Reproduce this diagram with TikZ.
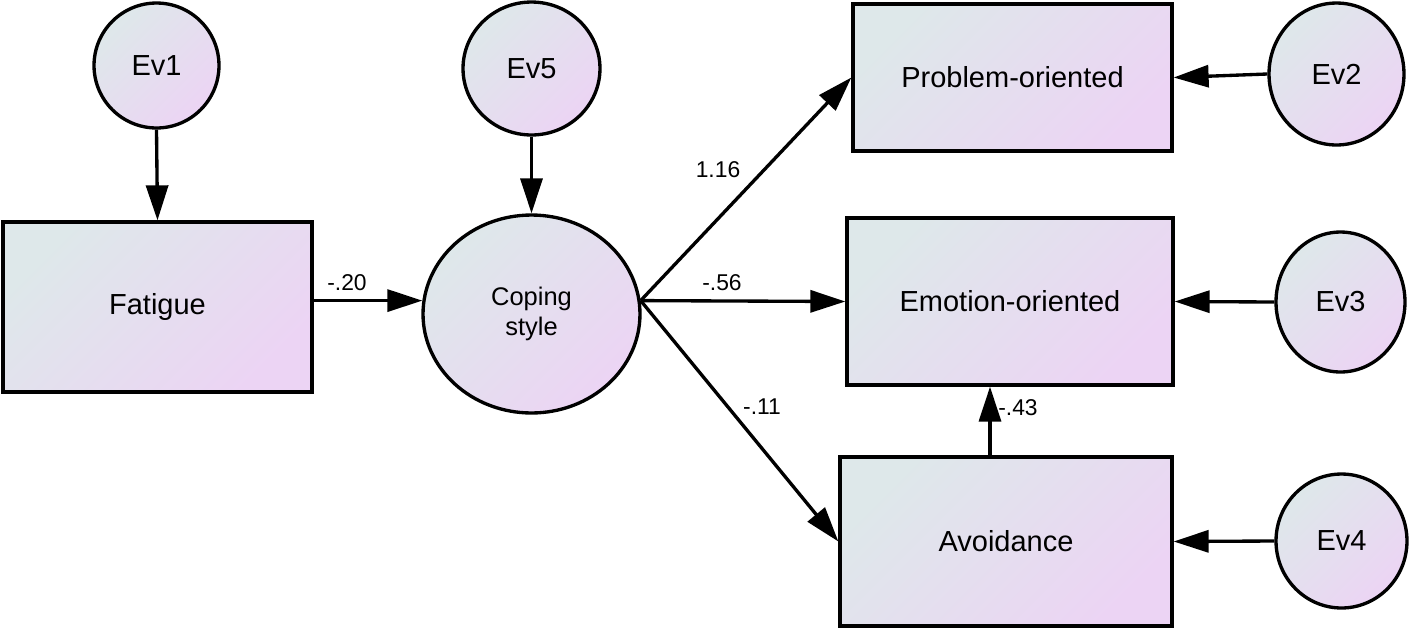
\documentclass[tikz,border=0pt]{standalone}
\usepackage{fontspec}
\setmainfont{Liberation Sans}
\usetikzlibrary{arrows.meta,shapes.geometric}
\definecolor{shA}{RGB}{222,232,234}
\definecolor{shB}{RGB}{236,212,244}
\tikzset{
  semnode/.style={draw=black, line width=1.9pt, top color=shA, bottom color=shB,
    shading angle=45, inner sep=0pt, align=center, font=\fontsize{16.5}{19}\selectfont},
  boxnode/.style={semnode, rectangle},
  errnode/.style={semnode, ellipse},
  conn/.style={line width=1.9pt, -{Triangle[length=0.7cm,width=0.44cm]}},
  coef/.style={font=\fontsize{13}{15}\selectfont, inner sep=0pt},
}
\begin{document}
\begin{tikzpicture}[x=0.02cm,y=-0.02cm]
\useasboundingbox (0,0) rectangle (1418,630);
% nodes
\node[errnode, minimum width=2.5cm, minimum height=2.5cm] (Ev1) at (156.5,65.5) {Ev1};
\node[errnode, minimum width=2.74cm, minimum height=2.66cm] (Ev5) at (531.5,68.5) {Ev5};
\node[boxnode, minimum width=6.18cm, minimum height=3.4cm] (Fat) at (157.5,307) {Fatigue};
\node[errnode, minimum width=4.34cm, minimum height=3.96cm,
      font=\fontsize{14.5}{17.5}\selectfont] (Cop) at (531.5,314) {Coping\\style};
\node[boxnode, minimum width=6.38cm, minimum height=2.94cm] (Prob) at (1012.5,77.5) {Problem-oriented};
\node[errnode, minimum width=2.7cm, minimum height=2.84cm] (Ev2) at (1336.5,74) {Ev2};
\node[boxnode, minimum width=6.52cm, minimum height=3.34cm] (Emo) at (1010,301.5) {Emotion-oriented};
\node[errnode, minimum width=2.58cm, minimum height=2.8cm] (Ev3) at (1340.5,302) {Ev3};
\node[boxnode, minimum width=6.64cm, minimum height=3.38cm] (Avo) at (1006,541.5) {Avoidance};
\node[errnode, minimum width=2.62cm, minimum height=2.68cm] (Ev4) at (1341.5,541) {Ev4};
% connectors
\draw[conn] (Ev1.south) -- (Fat.north);
\draw[conn] (Ev5.south) -- (Cop.north);
\draw[conn] (Fat.east |- Cop.173) -- (Cop.173);
\draw[conn] (Cop.7) -- (Prob.west);
\draw[conn] (Cop.7) -- (Emo.west);
\draw[conn] (Cop.7) -- (Avo.west);
\coordinate (avotop) at ([xshift=-0.32cm]Avo.north);
\draw[conn] (avotop) -- (avotop |- Emo.south);
\draw[conn] (Ev2.west) -- (Prob.east);
\draw[conn] (Ev3.west) -- (Emo.east);
\draw[conn] (Ev4.west) -- (Avo.east);
% coefficients
\node[coef] (l20) at (347,283) {-.20};
\node[coef] (l116) at (718,170) {1.16};
\node[coef] (l56) at (722,283) {-.56};
\node[coef] (l11) at (762,407) {-.11};
\node[coef] (l43) at (1018,408) {-.43};
\end{tikzpicture}
\end{document}
